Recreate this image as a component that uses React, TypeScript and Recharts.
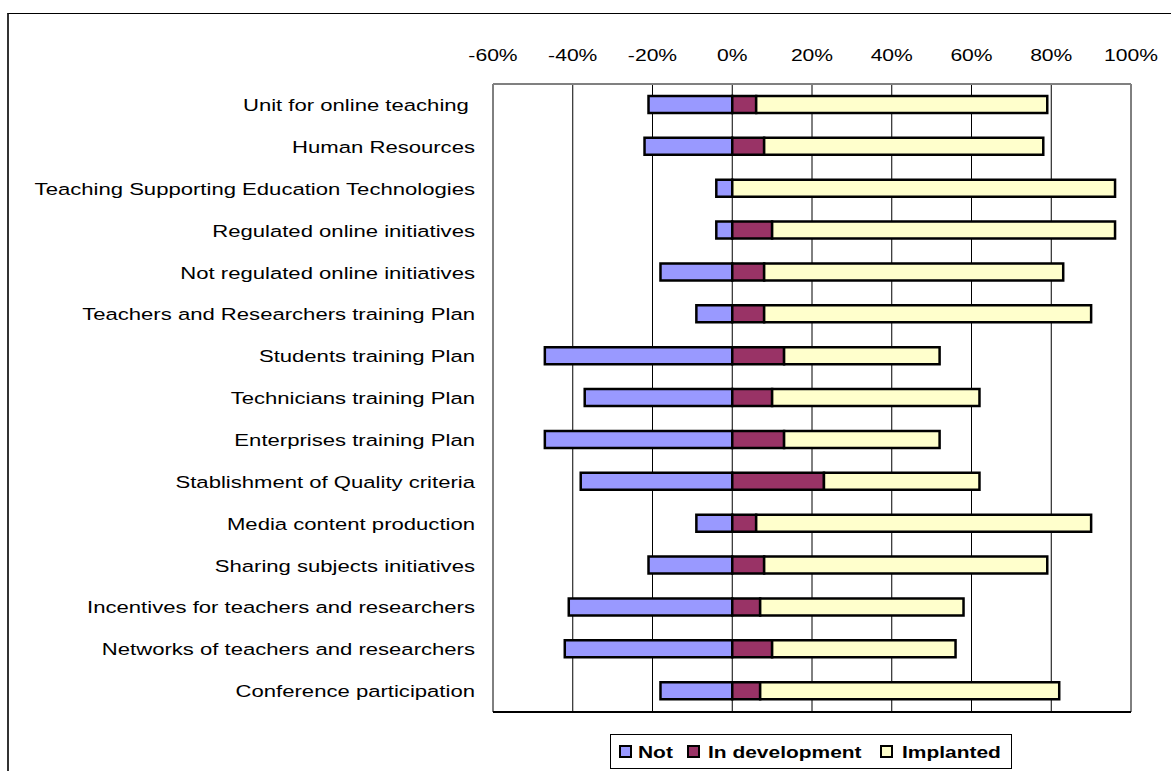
import React from "react";
import {
  BarChart,
  Bar,
  XAxis,
  YAxis,
  CartesianGrid,
  Legend,
} from "recharts";

const categories = [
  "Unit for online teaching ",
  "Human Resources",
  "Teaching Supporting Education Technologies",
  "Regulated online initiatives",
  "Not regulated online initiatives",
  "Teachers and Researchers training Plan",
  "Students training Plan",
  "Technicians training Plan",
  "Enterprises training Plan",
  "Stablishment of Quality criteria",
  "Media content production",
  "Sharing subjects initiatives",
  "Incentives for teachers and researchers",
  "Networks of teachers and researchers",
  "Conference participation",
];

const notValues = [-21, -22, -4, -4, -18, -9, -47, -37, -47, -38, -9, -21, -41, -42, -18];
const devValues = [6, 8, 0, 10, 8, 8, 13, 10, 13, 23, 6, 8, 7, 10, 7];
const implValues = [73, 70, 96, 86, 75, 82, 39, 52, 39, 39, 84, 71, 51, 46, 75];

const xTicks = [-60, -40, -20, 0, 20, 40, 60, 80, 100];
const boundTicks = [0, 1, 2, 3, 4, 5, 6, 7, 8, 9, 10, 11, 12, 13, 14, 15];

const seriesNames = ["Not", "In development", "Implanted"];
const colors = ["#9999FF", "#993366", "#FFFFCC"];

const data = categories.map((c, i) => ({
  name: c,
  not: notValues[i],
  dev: devValues[i],
  impl: implValues[i],
}));

const FONT = "'Liberation Sans', Arial, sans-serif";

const CatTick = (props: any) => {
  const { x, y, payload } = props;
  return (
    <g transform={`translate(${x},${y}) scale(1.3,1)`}>
      <text
        x={0}
        y={0}
        dy="0.36em"
        textAnchor="end"
        fontSize={17}
        fontFamily={FONT}
        fill="#000"
        style={{ whiteSpace: "pre" }}
      >
        {payload.value}
      </text>
    </g>
  );
};

const TopTick = (props: any) => {
  const { x, y, payload } = props;
  return (
    <g transform={`translate(${x},${y}) scale(1.28,1)`}>
      <text
        x={0}
        y={0}
        textAnchor="middle"
        fontSize={16.5}
        fontFamily={FONT}
        fill="#000"
      >
        {`${payload.value}%`}
      </text>
    </g>
  );
};

const EmptyTick = () => <g />;

// legend item layout (offsets within the legend box)
const legendSquareX = [9, 77, 270];
const legendTextX = [28, 98, 292];

const LegendContent = () => (
  <svg width={402} height={35} style={{ display: "block" }}>
    <rect x={0.5} y={0.5} width={401} height={34} fill="#fff" stroke="#000" strokeWidth={1} />
    {seriesNames.map((n, i) => (
      <g key={n}>
        <rect
          x={legendSquareX[i] + 1}
          y={12}
          width={11}
          height={11}
          fill={colors[i]}
          stroke="#000"
          strokeWidth={2}
        />
        <g transform={`translate(${legendTextX[i]},23.5) scale(1.27,1)`}>
          <text x={0} y={0} fontFamily={FONT} fontWeight="bold" fontSize={16.5} fill="#000">
            {n}
          </text>
        </g>
      </g>
    ))}
  </svg>
);

export default function App() {
  return (
    <div
      style={{
        position: "absolute",
        left: 0,
        top: 0,
        width: 1171,
        height: 771,
        overflow: "hidden",
        background: "#fff",
      }}
    >
      <div
        style={{
          position: "absolute",
          left: 7,
          top: 13,
          width: 1300,
          height: 900,
          borderLeft: "2px solid #333",
          borderTop: "1px solid #000",
        }}
      />
      <div style={{ position: "absolute", left: 0, top: 0 }}>
        <BarChart
          width={1171}
          height={771}
          data={data}
          layout="vertical"
          stackOffset="sign"
          barSize={17}
          margin={{ top: 54, right: 40, bottom: 4, left: 0 }}
        >
          <CartesianGrid
            xAxisId="top"
            yAxisId="cat"
            horizontal={false}
            vertical={true}
            stroke="#000"
            strokeWidth={1}
          />
          <XAxis
            xAxisId="top"
            type="number"
            orientation="top"
            domain={[-60, 100]}
            ticks={xTicks}
            height={30}
            tickLine={false}
            tickSize={0}
            tickMargin={23}
            axisLine={{ stroke: "#808080", strokeWidth: 2 }}
            tick={<TopTick />}
          />
          <XAxis
            xAxisId="bottom"
            type="number"
            orientation="bottom"
            domain={[-60, 100]}
            ticks={xTicks}
            height={20}
            tickSize={7}
            tick={<EmptyTick />}
            tickLine={{ stroke: "#000", strokeWidth: 1.5 }}
            axisLine={{ stroke: "#000", strokeWidth: 2 }}
          />
          <YAxis
            yAxisId="bounds"
            type="number"
            orientation="left"
            domain={[0, 15]}
            ticks={boundTicks}
            allowDataOverflow
            width={0}
            tickSize={6}
            tick={<EmptyTick />}
            tickLine={{ stroke: "#000", strokeWidth: 1.5 }}
            axisLine={{ stroke: "#000", strokeWidth: 2 }}
          />
          <YAxis
            yAxisId="cat"
            type="category"
            dataKey="name"
            orientation="left"
            width={493}
            tickSize={0}
            tickMargin={18}
            tickLine={false}
            axisLine={false}
            interval={0}
            tick={<CatTick />}
          />
          <Legend
            content={<LegendContent />}
            wrapperStyle={{ position: "absolute", left: 610, top: 734, width: 402, height: 35, bottom: "auto" }}
          />
          <Bar
            dataKey="not"
            name={seriesNames[0]}
            stackId="s"
            xAxisId="top"
            yAxisId="cat"
            fill={colors[0]}
            stroke="#000"
            strokeWidth={2.5}
            isAnimationActive={false}
          />
          <Bar
            dataKey="dev"
            name={seriesNames[1]}
            stackId="s"
            xAxisId="top"
            yAxisId="cat"
            fill={colors[1]}
            stroke="#000"
            strokeWidth={2.5}
            isAnimationActive={false}
          />
          <Bar
            dataKey="impl"
            name={seriesNames[2]}
            stackId="s"
            xAxisId="top"
            yAxisId="cat"
            fill={colors[2]}
            stroke="#000"
            strokeWidth={2.5}
            isAnimationActive={false}
          />
        </BarChart>
      </div>
    </div>
  );
}
